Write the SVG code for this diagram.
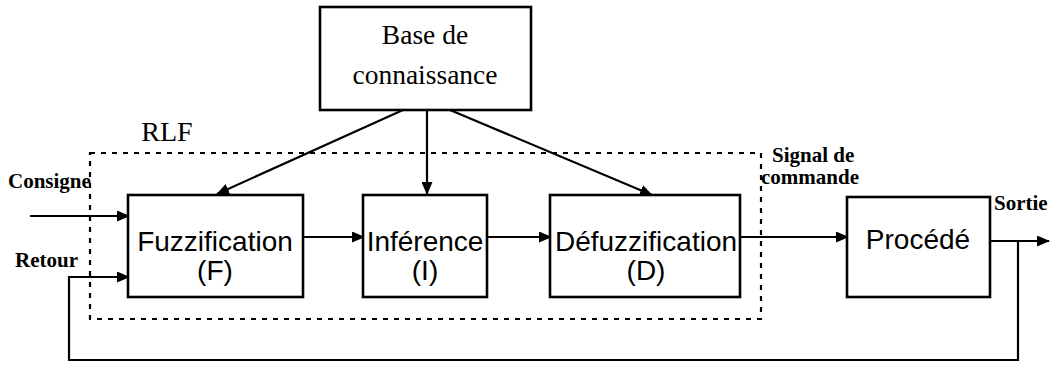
<svg xmlns="http://www.w3.org/2000/svg" width="1053" height="365" viewBox="0 0 1053 365">
  <style>
    .box { fill: #fff; stroke: #000; stroke-width: 2.6; }
    .wire { fill: none; stroke: #000; stroke-width: 2.2; }
    .frame { fill: none; stroke: #000; stroke-width: 2.2; stroke-dasharray: 5 6; }
    .blk { font-family: "Liberation Sans", Arial, sans-serif; font-size: 28px; fill: #000; text-anchor: middle; }
    .kb { font-family: "Liberation Serif", "Times New Roman", serif; font-size: 27.5px; fill: #000; text-anchor: middle; }
    .lbl { font-family: "Liberation Serif", "Times New Roman", serif; font-size: 21px; font-weight: bold; fill: #000; }
  </style>
  <defs>
    <marker id="arrow" markerWidth="13" markerHeight="11" refX="12" refY="5.5" orient="auto" markerUnits="userSpaceOnUse">
      <path d="M0,0 L13,5.5 L0,11 Z" fill="#000"/>
    </marker>
  </defs>

  <rect x="0" y="0" width="1053" height="365" fill="#fff"/>

  <!-- RLF controller boundary -->
  <g id="rlf">
    <rect class="frame" x="90" y="153" width="671" height="166"/>
    <text class="kb" x="167" y="141" style="font-size:28px">RLF</text>
  </g>

  <!-- connectors -->
  <g id="connectors">
    <line class="wire" x1="403" y1="110" x2="217" y2="194" marker-end="url(#arrow)"/>
    <line class="wire" x1="427" y1="110" x2="427" y2="194" marker-end="url(#arrow)"/>
    <line class="wire" x1="450" y1="110" x2="652" y2="195" marker-end="url(#arrow)"/>
    <line class="wire" x1="30" y1="216" x2="129" y2="216" marker-end="url(#arrow)"/>
    <line class="wire" x1="303" y1="237" x2="364" y2="237" marker-end="url(#arrow)"/>
    <line class="wire" x1="487" y1="237" x2="551" y2="237" marker-end="url(#arrow)"/>
    <line class="wire" x1="740" y1="237" x2="848" y2="237" marker-end="url(#arrow)"/>
    <line class="wire" x1="990" y1="241" x2="1049" y2="241" marker-end="url(#arrow)"/>
    <path class="wire" d="M1018,241 L1018,360 L69,360 L69,277 L129,277" marker-end="url(#arrow)"/>
  </g>

  <g id="base">
    <rect class="box" x="320" y="7" width="211" height="103"/>
    <text class="kb" x="425" y="44">Base de</text>
    <text class="kb" x="425" y="84">connaissance</text>
  </g>

  <g id="fuzzification">
    <rect class="box" x="128" y="195" width="175" height="102"/>
    <text class="blk" x="215" y="251">Fuzzification</text>
    <text class="blk" x="215" y="280">(F)</text>
  </g>

  <g id="inference">
    <rect class="box" x="363" y="195" width="124" height="102"/>
    <text class="blk" x="425" y="251">Inférence</text>
    <text class="blk" x="425" y="280">(I)</text>
  </g>

  <g id="defuzzification">
    <rect class="box" x="550" y="195" width="190" height="102"/>
    <text class="blk" x="646" y="251">Défuzzification</text>
    <text class="blk" x="646" y="280">(D)</text>
  </g>

  <g id="procede">
    <rect class="box" x="847" y="197" width="143" height="100"/>
    <text class="blk" x="918" y="249">Procédé</text>
  </g>

  <!-- signal labels -->
  <g id="labels">
    <text class="lbl" x="8" y="188">Consigne</text>
    <text class="lbl" x="15" y="267">Retour</text>
    <text class="lbl" x="772" y="162">Signal de</text>
    <text class="lbl" x="761" y="184">commande</text>
    <text class="lbl" x="994" y="210">Sortie</text>
  </g>
</svg>
